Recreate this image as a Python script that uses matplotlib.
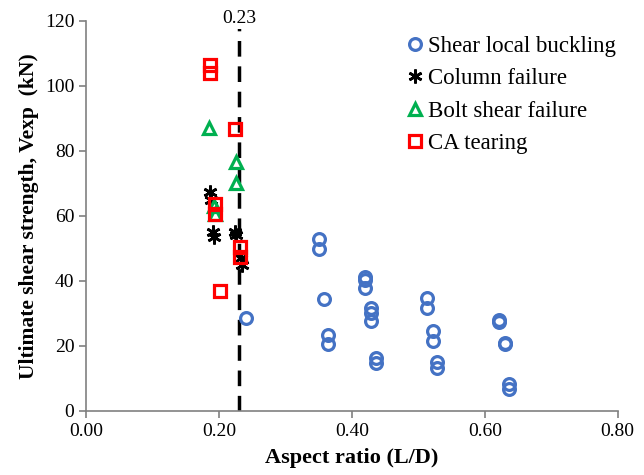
from matplotlib import pyplot as plt
import matplotlib as mpl
from matplotlib.ticker import FormatStrFormatter

mpl.rcParams['font.family'] = 'Liberation Serif'
mpl.rcParams['font.size'] = 13

# Shear local buckling
slb_x = [0.240, 0.351, 0.351, 0.358, 0.364, 0.364, 0.420, 0.420, 0.420, 0.429, 0.429, 0.429,
         0.436, 0.436, 0.513, 0.513, 0.522, 0.522, 0.528, 0.528, 0.622, 0.622, 0.630, 0.630,
         0.636, 0.636]
slb_y = [28.5, 53.0, 49.7, 34.5, 23.2, 20.5, 41.3, 40.3, 37.9, 31.6, 30.0, 27.8,
         16.2, 14.6, 34.7, 31.6, 24.5, 21.5, 14.9, 13.1, 28.0, 27.5, 21.0, 20.6,
         8.2, 6.7]

# Column failure
col_x = [0.187, 0.188, 0.191, 0.193, 0.224, 0.226, 0.233, 0.234]
col_y = [67.5, 64.8, 55.0, 53.4, 55.0, 54.0, 47.0, 45.0]

# Bolt shear failure
bolt_x = [0.185, 0.225, 0.225, 0.192, 0.194]
bolt_y = [87.0, 76.7, 70.0, 63.0, 60.5]

# CA tearing
ca_x = [0.186, 0.186, 0.224, 0.194, 0.194, 0.232, 0.232, 0.201]
ca_y = [106.5, 104.0, 86.7, 63.8, 60.6, 50.5, 47.5, 37.0]

limit_ar = 0.23

fig = plt.figure(figsize=(6.44, 4.75), dpi=100)
ax = fig.add_axes([0.134, 0.135, 0.825, 0.821])

ax.plot(slb_x, slb_y, 'o', ms=8.5, mfc='none', mec='#4472C4', mew=2.3, ls='none', label='Shear local buckling')
ax.plot(col_x, col_y, marker=(6, 2, 0), ms=10, mec='k', mew=1.9, ls='none', label='Column failure')
ax.plot(bolt_x, bolt_y, '^', ms=8.5, mfc='none', mec='#00B050', mew=2.3, ls='none', label='Bolt shear failure')
ax.plot(ca_x, ca_y, 's', ms=8.5, mfc='none', mec='#FF0000', mew=2.3, ls='none', label='CA tearing')

ax.plot([limit_ar, limit_ar], [0, 120], '--', c='k', lw=2.5, dashes=(4.5, 2.8), zorder=1)
ax.text(limit_ar, 118.0, '%.2f' % limit_ar, ha='center', va='bottom', fontsize=14, clip_on=False,
        bbox=dict(fc='white', ec='none', pad=1))

ax.set_xlim(0, 0.8)
ax.set_ylim(0, 120)
ax.set_xticks([0, 0.2, 0.4, 0.6, 0.8])
ax.set_yticks(range(0, 121, 20))
ax.xaxis.set_major_formatter(FormatStrFormatter('%.2f'))

ax.spines['top'].set_visible(False)
ax.spines['right'].set_visible(False)
for s in ['left', 'bottom']:
    ax.spines[s].set_color('#808080')
    ax.spines[s].set_linewidth(1.2)
ax.tick_params(direction='out', color='#808080', width=1.2, length=5, labelsize=14)

ax.set_xlabel('Aspect ratio (L/D)', fontweight='bold', fontsize=16, labelpad=6)
ax.set_ylabel('Ultimate shear strength, Vexp  (kN)', fontweight='bold', fontsize=15.5, labelpad=4)

ax.legend(loc='upper right', bbox_to_anchor=(1.035, 1.015), frameon=False, fontsize=16.5,
          handlelength=0.7, handletextpad=0.2, labelspacing=0.5)

plt.savefig('out.png', dpi=100)
